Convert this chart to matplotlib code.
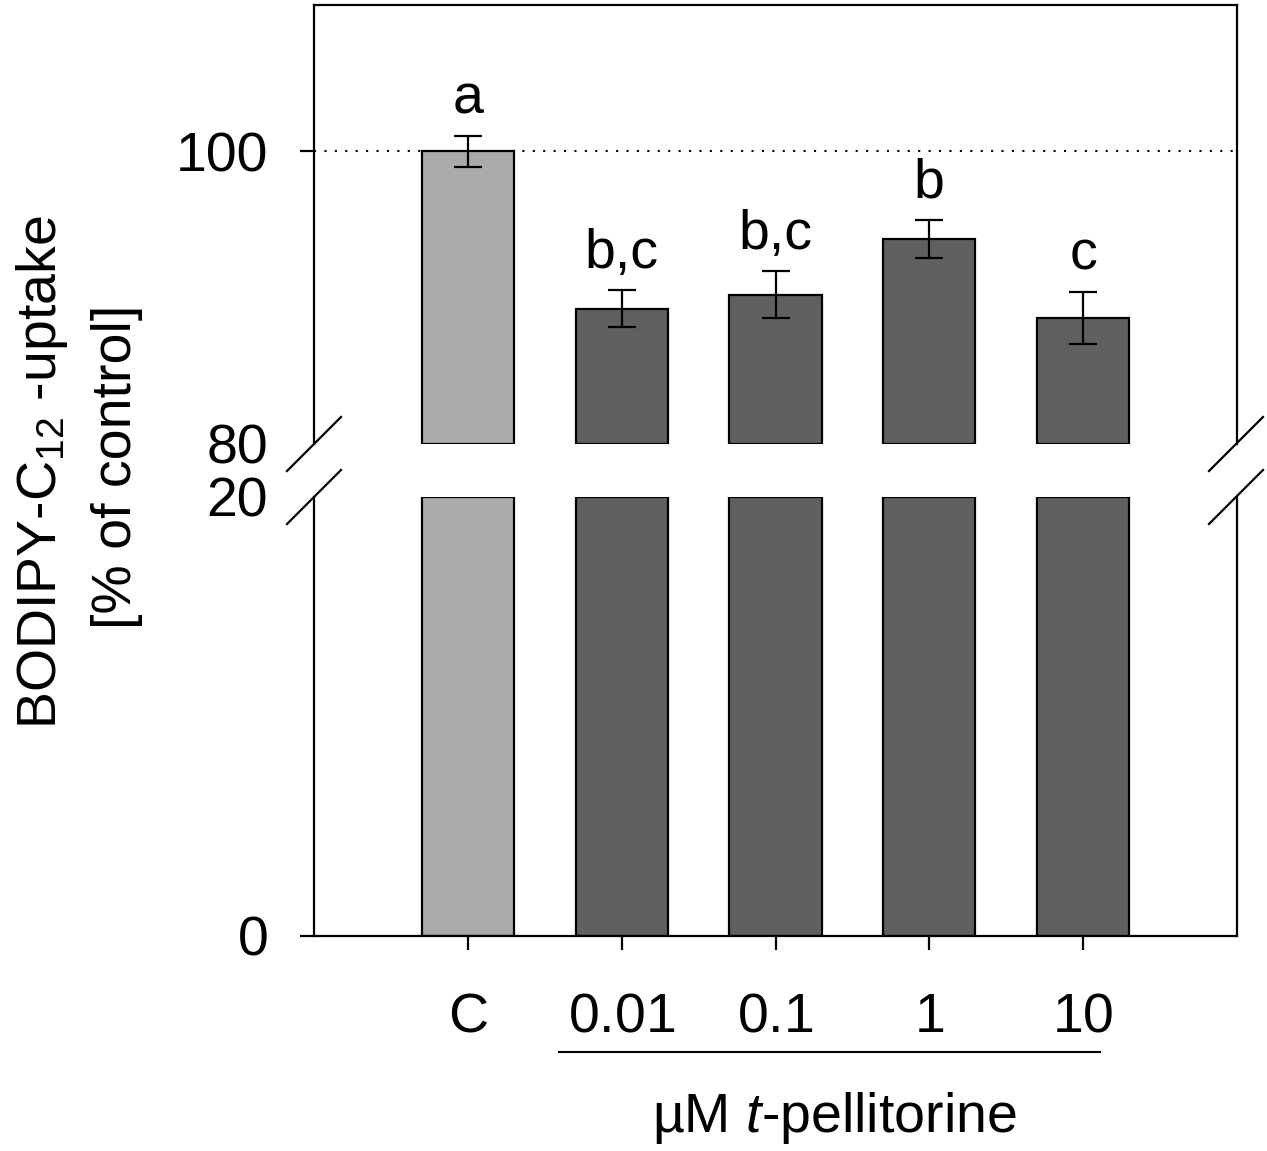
import numpy as np
import matplotlib
matplotlib.use("Agg")
import matplotlib.pyplot as plt
from matplotlib.lines import Line2D
import matplotlib.transforms as mtransforms

plt.rcParams['font.family'] = ['Liberation Sans', 'DejaVu Sans']
plt.rcParams['mathtext.fontset'] = 'custom'
plt.rcParams['mathtext.rm'] = 'Liberation Sans'
plt.rcParams['mathtext.it'] = 'Liberation Sans:italic'

# datos
grupos = ["C", "0.01", "0.1", "1", "10"]
valores = [100.0, 89.25, 90.2, 94.0, 88.6]
errores = [1.05, 1.25, 1.6, 1.3, 1.8]
letras = ["a", "b,c", "b,c", "b", "c"]
colores = ["#ababab", "#606060", "#606060", "#606060", "#606060"]

W, H = 1267, 1151
fs = 40
lw = 1.6
x = np.arange(len(grupos))
vals = np.array(valores)

fig = plt.figure(figsize=(W / 100, H / 100), dpi=100)
ax_top = fig.add_axes([314 / W, 1 - 444 / H, 923 / W, 439 / H])
ax_bot = fig.add_axes([314 / W, 1 - 936 / H, 923 / W, 439 / H])

# parte superior (80-110)
ax_top.axhline(100, color='k', ls=(0, (1, 4)), lw=1.5, zorder=0)
ax_top.bar(x, vals - 80, bottom=80, width=0.6, color=colores, edgecolor='k', linewidth=lw, zorder=2)
ax_top.errorbar(x, vals, yerr=errores, fmt='none', ecolor='k', elinewidth=lw,
                capsize=10, capthick=lw, zorder=3)
for xi, v, e, l in zip(x, vals, errores, letras):
    ax_top.annotate(l, (xi, v + e), xytext=(0, 16), textcoords='offset points',
                    ha='center', va='baseline', fontsize=fs)
ax_top.set_ylim(80, 110)
ax_top.set_xlim(-1, 5)
ax_top.set_yticks([80, 100])
ax_top.set_xticks([])
ax_top.spines['bottom'].set_visible(False)

# parte inferior (0-20)
ax_bot.bar(x, np.minimum(vals, 20), width=0.6, color=colores, edgecolor='k', linewidth=lw, zorder=2)
ax_bot.set_ylim(0, 20)
ax_bot.set_xlim(-1, 5)
ax_bot.set_yticks([0, 20])
ax_bot.set_xticks(x)
ax_bot.set_xticklabels([])
ax_bot.spines['top'].set_visible(False)

# etiquetas del eje x a mano (misma linea base)
trans = mtransforms.blended_transform_factory(ax_bot.transData, fig.transFigure)
for xi, g in zip(x, grupos):
    ax_bot.text(xi, 1 - 1032 / H, r"$\mathrm{%s}$" % g, transform=trans,
                ha='center', va='baseline', fontsize=fs)

for ax in (ax_top, ax_bot):
    for s in ax.spines.values():
        s.set_linewidth(lw)
    ax.tick_params(axis='y', direction='out', length=10, width=lw, pad=23, labelsize=fs)
    ax.tick_params(axis='x', direction='out', length=10, width=lw)

# sin marcas en 80 y 20
ax_top.yaxis.get_major_ticks()[0].tick1line.set_visible(False)
ax_bot.yaxis.get_major_ticks()[1].tick1line.set_visible(False)

# marcas de corte del eje
def px(xp, yp):
    return xp / W, 1 - yp / H

for xa in (313, 1235):
    for yc in (444, 497):
        (x0, y0), (x1, y1) = px(xa - 26, yc + 27), px(xa + 28, yc - 27)
        fig.add_artist(Line2D([x0, x1], [y0, y1], color='k', lw=lw, transform=fig.transFigure))

# linea bajo las concentraciones
(u0, uy), (u1, _) = px(559, 1052), px(1100, 1052)
fig.add_artist(Line2D([u0, u1], [uy, uy], color='k', lw=1.5, transform=fig.transFigure))

fig.text(*px(834, 1118), r"µM $\it{t}$-pellitorine", ha='center', va='center', fontsize=fs)
fig.text(*px(42, 472), r"BODIPY-C$_\mathrm{12}$ -uptake", rotation=90, ha='center', va='center', fontsize=fs)
fig.text(*px(117, 467), "[% of control]", rotation=90, ha='center', va='center', fontsize=fs)

fig.savefig("out.png", dpi=100)
